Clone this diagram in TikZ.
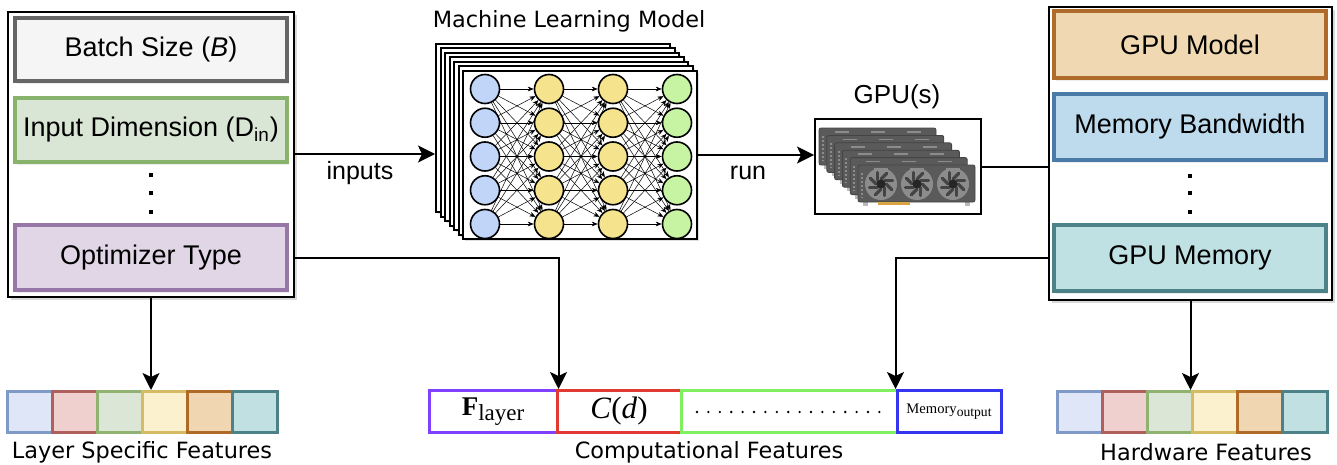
\documentclass[tikz,border=0pt]{standalone}
\usepackage{fontspec}
\setmainfont{Liberation Sans}
\newfontfamily\dejavu{DejaVu Sans}
\newfontfamily\serifrm{Liberation Serif}
\usetikzlibrary{arrows.meta,shadows,positioning}

\definecolor{grayfill}{HTML}{F5F5F5}\definecolor{graydraw}{HTML}{666666}
\definecolor{greenfill}{HTML}{DAE6D5}\definecolor{greendraw}{HTML}{88B36C}
\definecolor{purplefill}{HTML}{E1D6E6}\definecolor{purpledraw}{HTML}{9677A8}
\definecolor{orangefill}{HTML}{F0D8B2}\definecolor{orangedraw}{HTML}{B06A2A}
\definecolor{bluefill}{HTML}{BDDBED}\definecolor{bluedraw}{HTML}{4A7AA6}
\definecolor{tealfill}{HTML}{C0E1E3}\definecolor{tealdraw}{HTML}{4D8289}
\definecolor{cblue}{HTML}{DFE6F8}\definecolor{dblue}{HTML}{7F9AC6}
\definecolor{cred}{HTML}{EFD0CF}\definecolor{dred}{HTML}{B0605C}
\definecolor{cgreen}{HTML}{DBE6D6}\definecolor{dgreen}{HTML}{90B372}
\definecolor{cyellow}{HTML}{FBF1CE}\definecolor{dyellow}{HTML}{D6BB66}
\definecolor{corange}{HTML}{F0D7B1}\definecolor{dorange}{HTML}{B06A28}
\definecolor{cteal}{HTML}{C1E0E2}\definecolor{dteal}{HTML}{4D8188}
\definecolor{nnblue}{HTML}{C0D5F8}\definecolor{nnyellow}{HTML}{F6E38D}
\definecolor{nngreen}{HTML}{C6F4A3}
\definecolor{flayerdraw}{HTML}{8040FF}\definecolor{cddraw}{HTML}{E03A32}
\definecolor{dotsdraw}{HTML}{80F060}\definecolor{memdraw}{HTML}{3535F0}
\definecolor{gpubody}{HTML}{5A5A5A}\definecolor{gpuedge}{HTML}{444444}
\definecolor{gpulight}{HTML}{8C8C8C}\definecolor{gpugold}{HTML}{D9A441}

\tikzset{
  panel/.style={draw=black, line width=1pt, fill=white, inner sep=0pt,
    drop shadow={opacity=0.3, shadow xshift=1.5pt, shadow yshift=-1.5pt}},
  featbox/.style 2 args={draw=#1, fill=#2, line width=2pt, inner sep=0pt,
    minimum width=136pt, font=\fontsize{13.5}{16}\selectfont,
    drop shadow={opacity=0.15, shadow xshift=1pt, shadow yshift=-1.5pt}},
  cell/.style={draw, line width=1.5pt, minimum width=22.5pt, minimum height=20.5pt, inner sep=0pt},
  compcell/.style={draw, line width=1.5pt, fill=white, minimum height=21pt, inner sep=0pt},
  caption/.style={font=\dejavu\fontsize{11.2}{13}\selectfont},
  mlframe/.style={draw=black, line width=1pt, fill=white, minimum width=117pt,
    minimum height=84pt, inner sep=0pt,
    drop shadow={opacity=0.25, shadow xshift=1pt, shadow yshift=-1pt}},
  neuron/.style={circle, draw=black, line width=0.8pt, minimum size=14.5pt, inner sep=0pt},
  nnedge/.style={line width=0.25pt, -{Stealth[length=3pt,width=2.4pt]}},
  conn/.style={line width=1pt},
  edgelabel/.style={font=\fontsize{12.5}{15}\selectfont},
  fanblade/.style={line width=1.6pt, draw=gpuedge, line cap=round},
}

\begin{document}
\begin{tikzpicture}[x=0.5pt, y=-0.5pt, >={Stealth[length=8.5pt,width=8.5pt,inset=2pt]}]
\useasboundingbox (0,0) rectangle (1337,465);

% left panel: layer features
\node[panel, minimum width=143pt, minimum height=142.5pt] (leftpanel) at (151,154.5) {};
\node[featbox={graydraw}{grayfill}, minimum height=31.5pt] (batch) at (151,49.5) {Batch Size (\textit{B})};
\node[featbox={greendraw}{greenfill}, minimum height=32pt] (indim) at (151,130) {Input Dimension (D\textsubscript{in})};
\node[featbox={purpledraw}{purplefill}, minimum height=32.5pt] (opt) at (151,257.5) {Optimizer Type};
\foreach \y in {175,193,212}
  \fill (151,\y) +(-2,-2) rectangle +(2,2);

% right panel: hardware features
\node[panel, minimum width=141.5pt, minimum height=146.5pt] (hwpanel) at (1190.5,153.5) {};
\node[featbox={orangedraw}{orangefill}, minimum height=33.5pt] (gpumodel) at (1190,44.5) {GPU Model};
\node[featbox={bluedraw}{bluefill}, minimum height=33pt] (membw) at (1190,127) {Memory Bandwidth};
\node[featbox={tealdraw}{tealfill}, minimum height=33pt] (gpumem) at (1190,258) {GPU Memory};
\foreach \y in {176,193,212}
  \fill (1190,\y) +(-2,-2) rectangle +(2,2);

% machine learning model
\node[font=\dejavu\fontsize{11.2}{13}\selectfont] (mltitle) at (569,21) {Machine Learning Model};
\foreach \k in {0,...,6}
  \node[mlframe] (frame\k) at (553+4.5*\k,128+4.5*\k) {};
\foreach \c/\col in {1/nnblue,2/nnyellow,3/nnyellow,4/nngreen}
  \foreach \r in {1,...,5}
    \node[neuron, fill=\col] (n\c\r) at ({485+64*(\c-1)},{89+33.75*(\r-1)}) {};
\foreach \c [evaluate=\c as \n using int(\c+1)] in {1,2,3}
  \foreach \i in {1,...,5}
    \foreach \j in {1,...,5}
      \draw[nnedge] (n\c\i) -- (n\n\j);

% gpu
\node[font=\fontsize{13}{15}\selectfont] (gputitle) at (897,97) {GPU(s)};
\node[draw=black, line width=1pt, fill=white, minimum width=83pt, minimum height=47.5pt, inner sep=0pt] (gpubox) at (898,166.5) {};
\foreach \k in {0,...,5} {
  \begin{scope}[shift={(819+7.8*\k,128+7.4*\k)}]
    \fill[gpulight!60] (5,36) rectangle (10,41);
    \fill[gpulight!60] (107,36) rectangle (112,41);
    \filldraw[fill=gpubody, draw=gpuedge, line width=0.4pt, rounded corners=1pt] (0,0) rectangle (117,37);
    \draw[gpulight, line width=1pt, dash pattern=on 1pt off 1pt] (4,8) -- (4,33);
    \foreach \fx in {23,59,95}
      \draw[gpulight, line width=0.8pt] (\fx-7,4) -- (\fx+7,4);
  \end{scope}
}
\begin{scope}[shift={(858,165)}]
  \fill[gpugold] (20,37) rectangle (52,39.5);
  \foreach \fx in {23,59,95} {
    \fill[gpulight] (\fx,19) circle (16);
    \foreach \a in {0,45,...,315}
      \draw[fanblade] (\fx,19) ++(\a:5) -- ++(\a+45:8);
    \fill[black!85] (\fx,19) circle (4.5);
  }
\end{scope}

% feature vectors
\foreach \f/\d [count=\i from 0] in {cblue/dblue,cred/dred,cgreen/dgreen,cyellow/dyellow,corange/dorange,cteal/dteal} {
  \node[cell, fill=\f, draw=\d] (ls\i) at (30+45*\i,412) {};
  \node[cell, fill=\f, draw=\d] (hw\i) at (1079.5+45*\i,412) {};
}
\node[compcell, draw=flayerdraw, minimum width=64pt] (flayer) at (493,411.5)
  {\serifrm\fontsize{13.5}{15}\selectfont\textbf{F}\raisebox{-0.45ex}{\fontsize{11.5}{13}\selectfont layer}};
\node[compcell, draw=cddraw, minimum width=62pt] (cd) at (619,411.5)
  {\serifrm\fontsize{15.5}{17}\selectfont\textit{C}(\textit{d})};
\node[compcell, draw=dotsdraw, minimum width=108pt] (dotcell) at (789,411.5) {};
\node[compcell, draw=memdraw, minimum width=52pt] (memout) at (949,411.5)
  {\serifrm\fontsize{7.3}{9}\selectfont Memory\raisebox{-0.5ex}{\fontsize{6.8}{8}\selectfont output}};
\foreach \i in {0,...,16}
  \fill (697+11.4*\i,412) circle (1.3);

\node[caption] (lscap) at (142,452) {Layer Specific Features};
\node[caption] (compcap) at (709,452) {Computational Features};
\node[caption] (hwcap) at (1206,452) {Hardware Features};

% connectors
\coordinate (inY) at (300,154);
\draw[conn,->] (leftpanel.east |- inY) -- (frame0.west |- inY);
\node[edgelabel] (inlbl) at (360,173) {inputs};
\draw[conn,->] (frame6.east) -- (gpubox.west |- frame6.east);
\node[edgelabel] (runlbl) at (748,173) {run};
\draw[conn] (gpubox.east) -- (hwpanel.west |- gpubox.east);
\draw[conn,->] (leftpanel.east |- opt) -| (flayer.north east);
\draw[conn,->] (hwpanel.west |- gpumem) -| (memout.north west);
\draw[conn,->] (leftpanel.south) -- (leftpanel.south |- ls2.north);
\draw[conn,->] (hwpanel.south) -- (hwpanel.south |- hw2.north);

\end{tikzpicture}
\end{document}
